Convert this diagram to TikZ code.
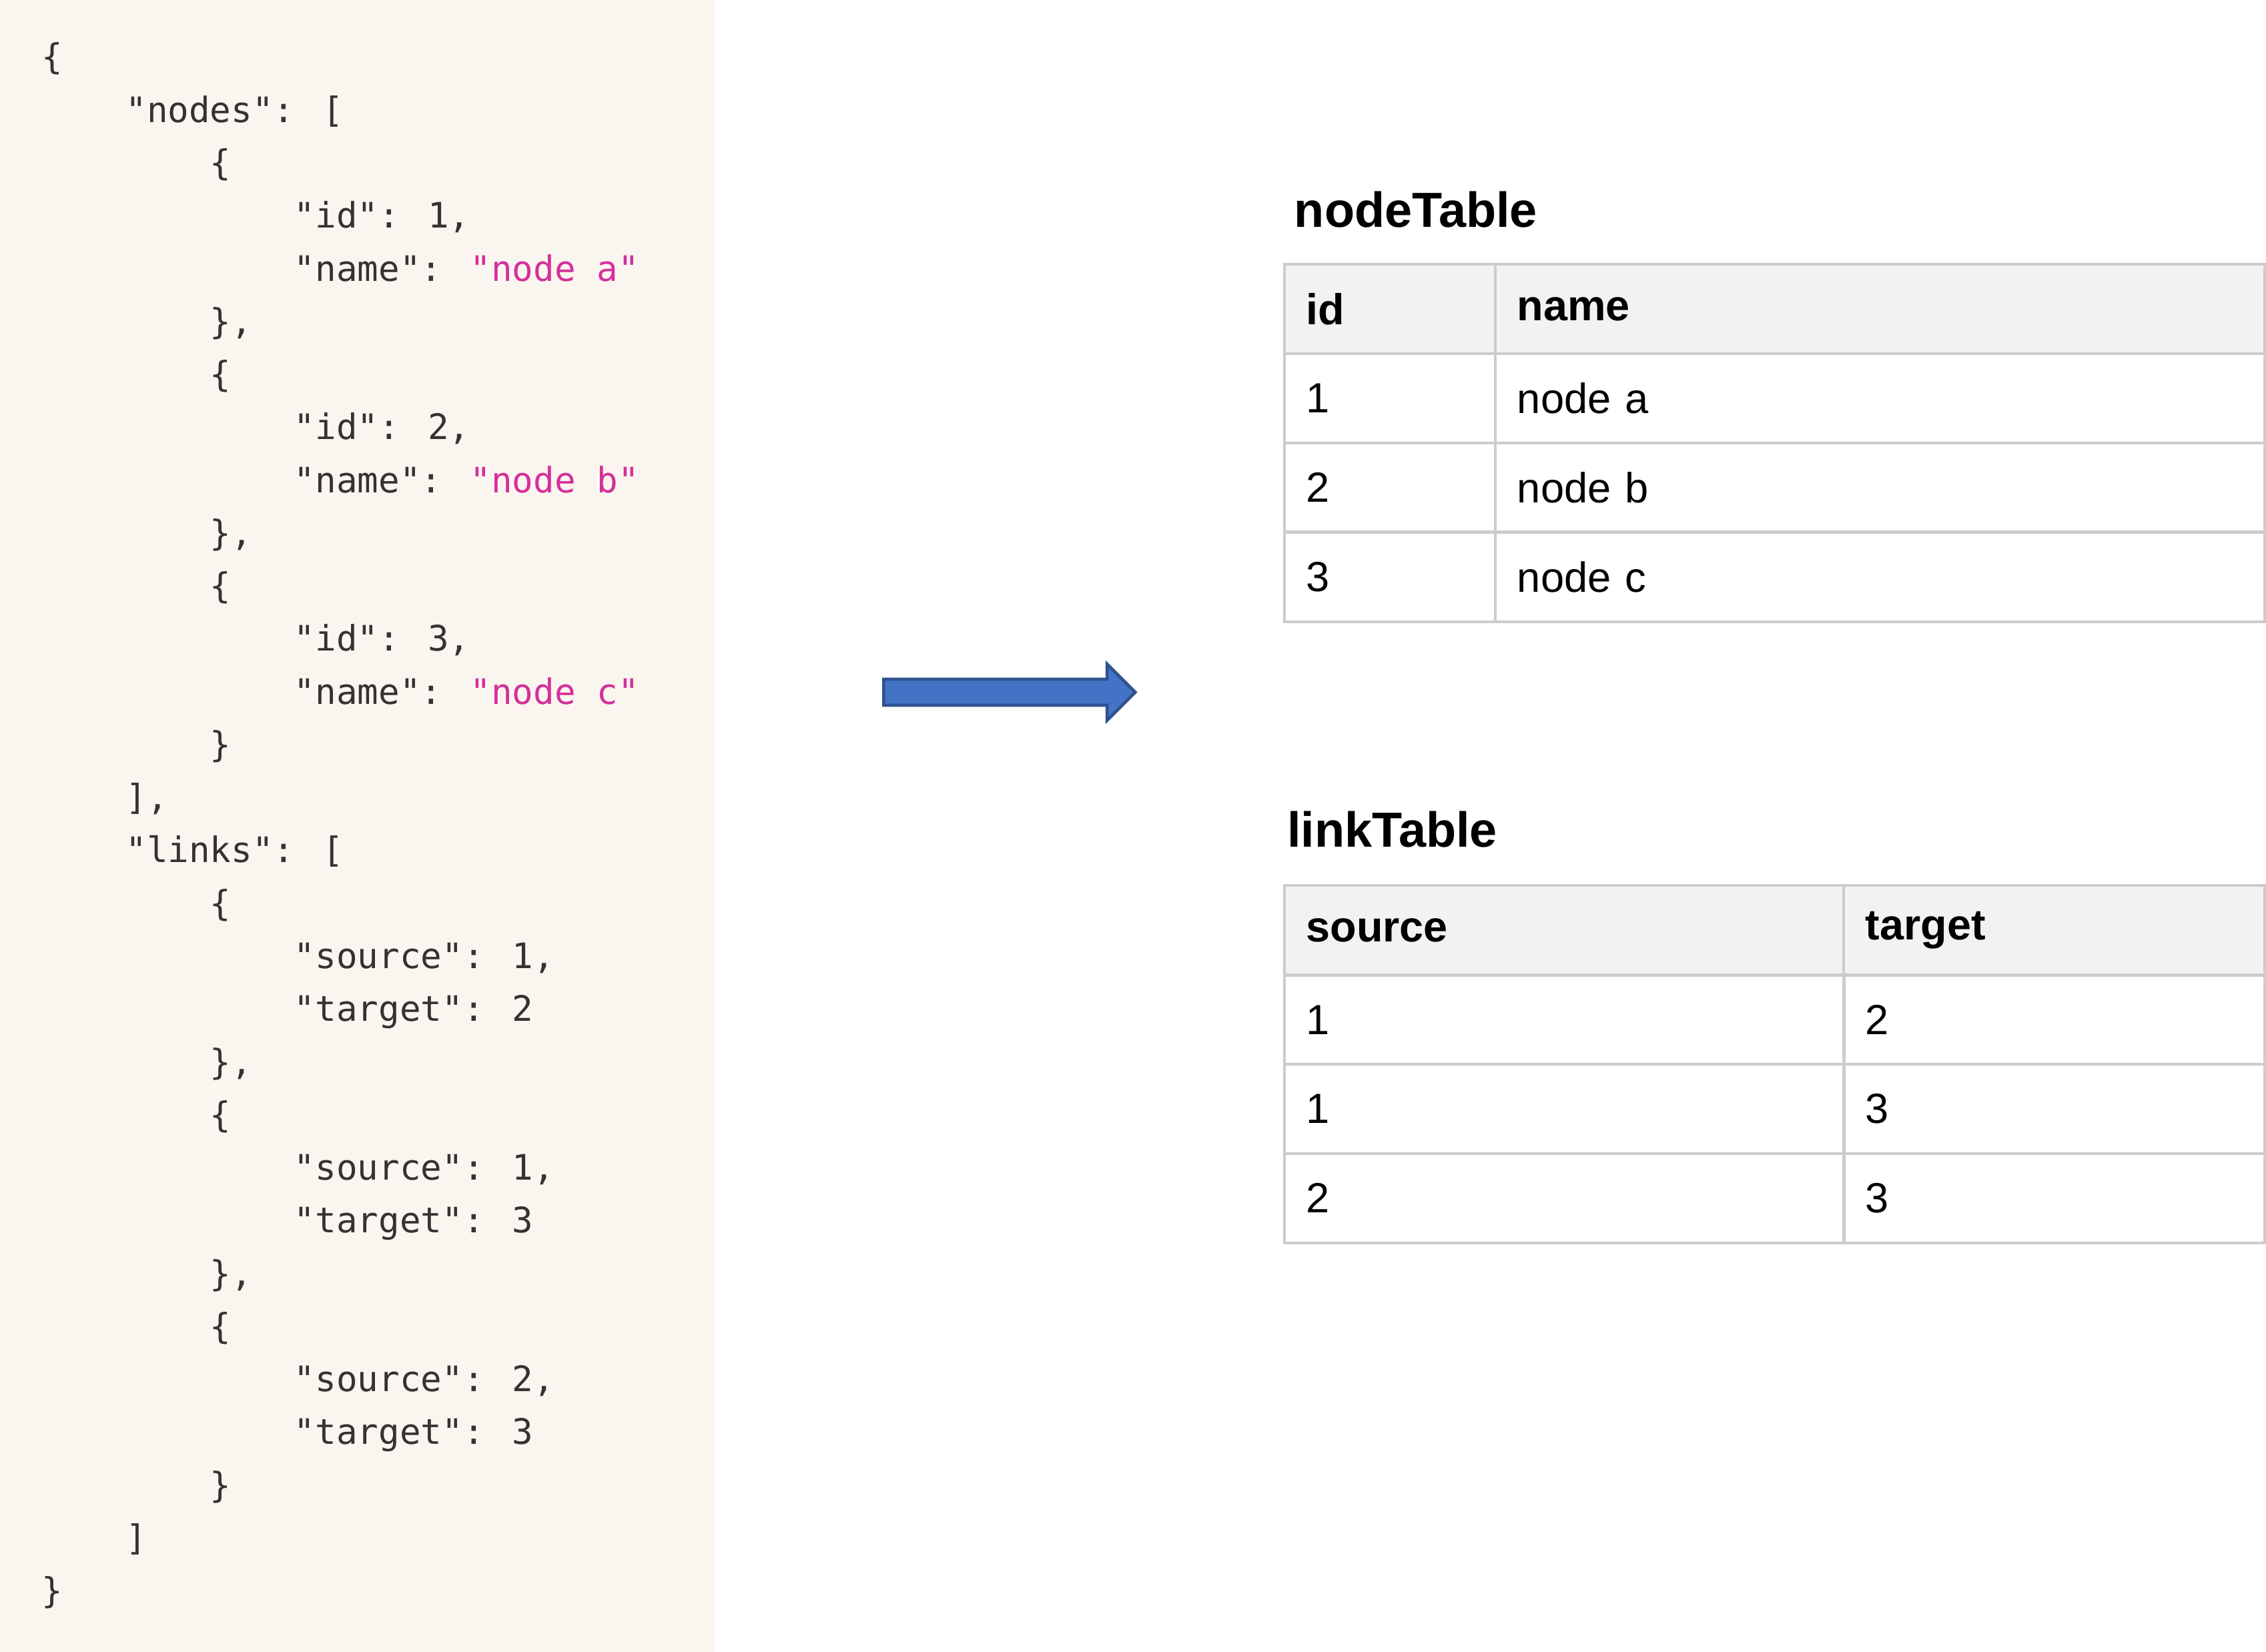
\documentclass[tikz,border=0pt]{standalone}
\usepackage{fontspec}
\setmainfont{Liberation Sans}
\newfontfamily\codefont{DejaVu Sans Mono}
\usetikzlibrary{positioning,shapes.arrows}
\definecolor{codebg}{HTML}{FAF5EF}
\definecolor{codekey}{HTML}{333333}
\definecolor{codestr}{HTML}{D4309A}
\definecolor{arrowfill}{HTML}{4472C4}
\definecolor{arrowline}{HTML}{2F528F}
\definecolor{headfill}{HTML}{F2F2F2}
\definecolor{gridline}{HTML}{CCCCCC}
\newcommand{\str}[1]{\textcolor{codestr}{#1}}
\tikzset{
  code/.style={anchor=base west, inner sep=0pt, text=codekey, font=\codefont\fontsize{6.9}{8}\selectfont},
  title/.style={anchor=base west, inner sep=0pt, font=\bfseries\fontsize{9.7}{11}\selectfont},
  cell/.style={draw=gridline, line width=0.5pt, anchor=north west, minimum height=0.62cm,
    inner xsep=0.15cm, align=left, font=\fontsize{8.3}{10}\selectfont},
  head/.style={cell, fill=headfill, font=\bfseries\fontsize{8.5}{10}\selectfont}
}
\begin{document}
\begin{tikzpicture}[x=0.01cm, y=-0.01cm]
\useasboundingbox (0,0) rectangle (1568,1143);
% code panel
\fill[codebg] (0,0) rectangle (495,1143);
\foreach \ind/\txt [count=\i] in {
  0/\{, 1/{"nodes": [}, 2/\{, 3/{"id": 1,}, 3/{"name": \str{"node a"}}, 2/{\},},
  2/\{, 3/{"id": 2,}, 3/{"name": \str{"node b"}}, 2/{\},},
  2/\{, 3/{"id": 3,}, 3/{"name": \str{"node c"}}, 2/\},
  1/{],}, 1/{"links": [}, 2/\{, 3/{"source": 1,}, 3/{"target": 2}, 2/{\},},
  2/\{, 3/{"source": 1,}, 3/{"target": 3}, 2/{\},},
  2/\{, 3/{"source": 2,}, 3/{"target": 3}, 2/\}, 1/], 0/\}} {
  \node[code] (line\i) at ({28+58.3*\ind}, {48+36.6*(\i-1)}) {\txt};
}
% arrow
\node[single arrow, draw=arrowline, fill=arrowfill, line width=0.6pt,
  minimum width=0.37cm, single arrow head extend=0.105cm, single arrow tip angle=90,
  minimum height=1.74cm, inner xsep=0pt, inner ysep=0.08cm] (conv) at (694,479) {};
% nodeTable
\node[title] (nodetitle) at (895,157) {nodeTable};
\node[head, text width=1.16cm] (n00) at (888,182) {id};
\node[head, text width=5.02cm] (n01) at (1034,182) {name};
\foreach \id/\nm [count=\r] in {1/node a, 2/node b, 3/node c} {
  \node[cell, text width=1.16cm] (n\r0) at (888,{182+61.75*\r}) {\id};
  \node[cell, text width=5.02cm] (n\r1) at (1034,{182+61.75*\r}) {\nm};
}
% linkTable
\node[title] (linktitle) at (890,586) {linkTable};
\node[head, text width=3.57cm] (l00) at (888,612) {source};
\node[head, text width=2.61cm] (l01) at (1275,612) {target};
\foreach \s/\t [count=\r] in {1/2, 1/3, 2/3} {
  \node[cell, text width=3.57cm] (l\r0) at (888,{612+61.75*\r}) {\s};
  \node[cell, text width=2.61cm] (l\r1) at (1275,{612+61.75*\r}) {\t};
}
\end{tikzpicture}
\end{document}
